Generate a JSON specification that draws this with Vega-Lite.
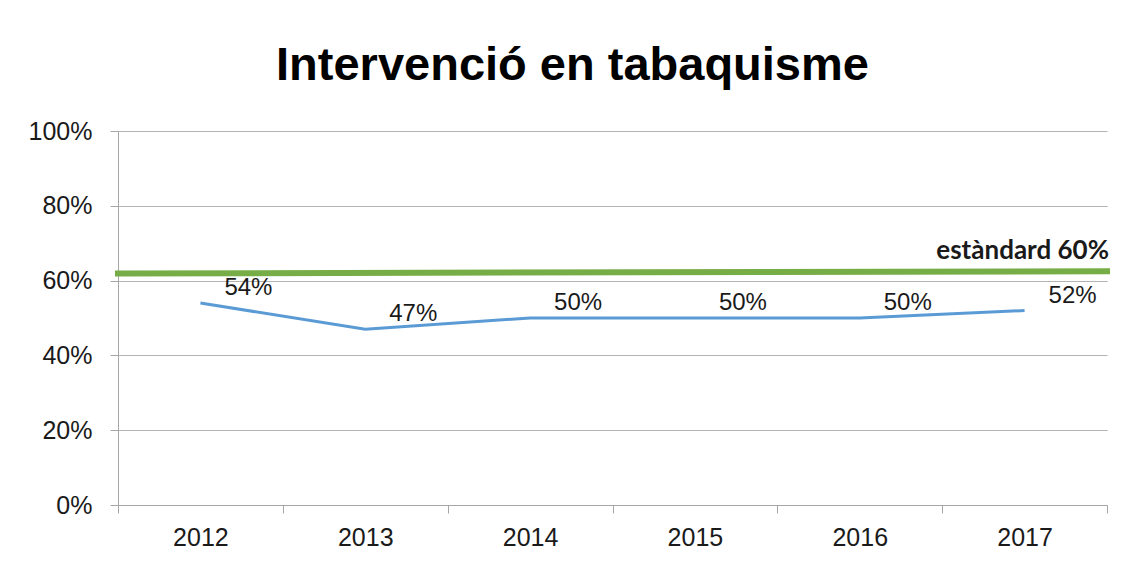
{
  "$schema": "https://vega.github.io/schema/vega-lite/v6.json",
  "width": 989,
  "height": 374,
  "autosize": {"type": "none"},
  "padding": {"left": 118, "top": 131, "right": 27, "bottom": 60},
  "background": "white",
  "title": {
    "text": "Intervenció en tabaquisme",
    "font": "Liberation Sans",
    "fontSize": 47,
    "fontWeight": "bold",
    "color": "#000000",
    "anchor": "middle",
    "frame": "group",
    "dx": -40,
    "offset": -8,
    "baseline": "alphabetic"
  },
  "config": {"view": {"stroke": null}},
  "layer": [
    {
      "data": {
        "values": [
          {"year": "2012", "pct": 0.54},
          {"year": "2013", "pct": 0.47},
          {"year": "2014", "pct": 0.50},
          {"year": "2015", "pct": 0.50},
          {"year": "2016", "pct": 0.50},
          {"year": "2017", "pct": 0.52}
        ]
      },
      "encoding": {
        "x": {
          "field": "year",
          "type": "ordinal",
          "bandPosition": 0.5,
          "scale": {"type": "band", "paddingInner": 0, "paddingOuter": 0},
          "axis": {
            "title": null,
            "labelAngle": 0,
            "tickBand": "extent",
            "grid": false,
            "tickSize": 8,
            "tickColor": "#a6a6a6",
            "domainColor": "#a6a6a6",
            "labelFont": "Liberation Sans",
            "labelFontSize": 25,
            "labelColor": "#1a1a1a",
            "labelPadding": 12
          }
        },
        "y": {
          "field": "pct",
          "type": "quantitative",
          "scale": {"domain": [0, 1]},
          "axis": {
            "title": null,
            "values": [0, 0.2, 0.4, 0.6, 0.8, 1],
            "format": ".0%",
            "grid": true,
            "gridColor": "#b3b3b3",
            "domainColor": "#a6a6a6",
            "tickColor": "#a6a6a6",
            "tickSize": 8,
            "labelFont": "Liberation Sans",
            "labelFontSize": 25,
            "labelColor": "#1a1a1a",
            "labelPadding": 18
          }
        }
      },
      "layer": [
        {"mark": {"type": "line", "color": "#5b9bd5", "strokeWidth": 3}},
        {
          "mark": {"type": "text", "dx": 48, "dy": -8, "baseline": "alphabetic", "align": "center", "font": "Liberation Sans", "fontSize": 24, "color": "#1a1a1a"},
          "encoding": {"text": {"field": "pct", "type": "quantitative", "format": ".0%"}}
        }
      ]
    },
    {
      "data": {"values": [{"pos": 0, "v": 0.619}, {"pos": 1, "v": 0.625}]},
      "encoding": {
        "x": {"field": "pos", "type": "quantitative", "scale": {"domain": [0, 1]}, "axis": null},
        "y": {"field": "v", "type": "quantitative"}
      },
      "layer": [
        {"mark": {"type": "line", "color": "#77ad46", "strokeWidth": 6, "strokeCap": "square"}},
        {
          "transform": [{"filter": "datum.pos == 1"}],
          "mark": {"type": "text", "align": "right", "baseline": "alphabetic", "dx": 2, "dy": -12, "font": "Lato", "fontWeight": "bold", "fontSize": 26, "color": "#1a1a1a"},
          "encoding": {"text": {"value": "estàndard 60%"}}
        }
      ]
    }
  ],
  "resolve": {"scale": {"x": "independent"}}
}
